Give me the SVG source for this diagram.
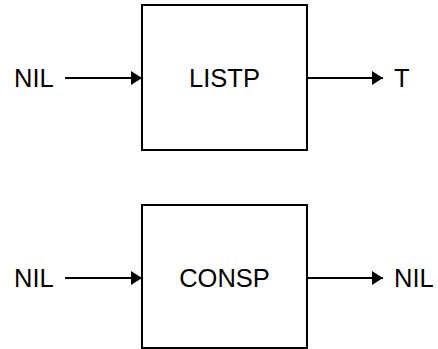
<svg xmlns="http://www.w3.org/2000/svg" width="438" height="349" viewBox="0 0 438 349">
<style>
.box{fill:#fff;stroke:#000;stroke-width:2}
.lbl{font-family:"Liberation Sans",Arial,sans-serif;font-size:25.5px;fill:#000}
.mid{text-anchor:middle}
.edge{stroke:#000;stroke-width:2;fill:none}
</style>
<defs>
<marker id="ah" markerWidth="11" markerHeight="14" refX="11" refY="7" orient="auto" markerUnits="userSpaceOnUse">
<path d="M0,0 L11,7 L0,14 Z" fill="#000"/>
</marker>
</defs>
<rect width="438" height="349" fill="#fff"/>
<g id="listp">
<rect class="box" x="142" y="5" width="165" height="145"/>
<text class="lbl mid" x="224.5" y="87">LISTP</text>
</g>
<g id="consp">
<rect class="box" x="142" y="205" width="165" height="143"/>
<text class="lbl mid" x="224.5" y="287">CONSP</text>
</g>
<g id="in1"><text class="lbl" x="14" y="87">NIL</text></g>
<g id="out1"><text class="lbl" x="394" y="87">T</text></g>
<g id="in2"><text class="lbl" x="14" y="287">NIL</text></g>
<g id="out2"><text class="lbl" x="394" y="287">NIL</text></g>
<g id="connectors">
<line class="edge" x1="65" y1="78" x2="142" y2="78" marker-end="url(#ah)"/>
<line class="edge" x1="307" y1="78" x2="383" y2="78" marker-end="url(#ah)"/>
<line class="edge" x1="65" y1="278" x2="142" y2="278" marker-end="url(#ah)"/>
<line class="edge" x1="307" y1="278" x2="383" y2="278" marker-end="url(#ah)"/>
</g>
</svg>
